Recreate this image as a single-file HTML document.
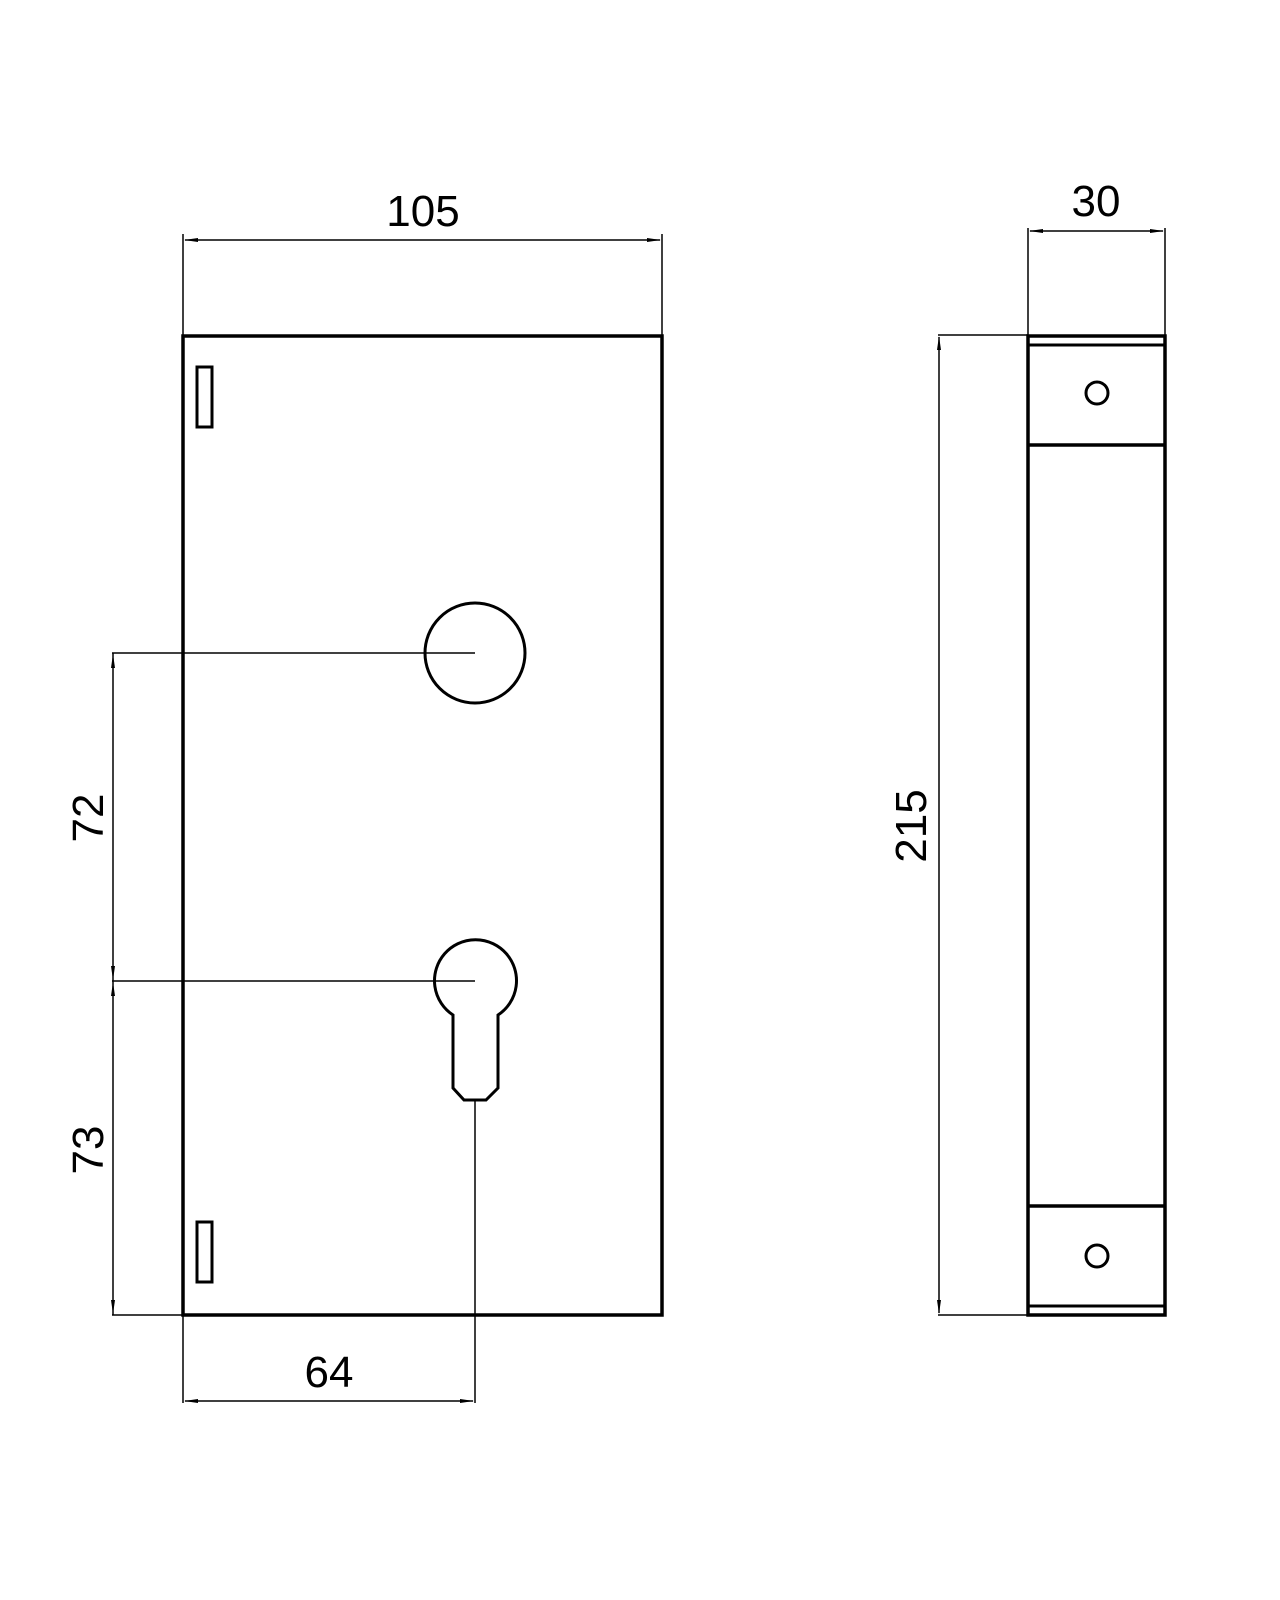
<!DOCTYPE html>
<html><head><meta charset="utf-8"><style>html,body{margin:0;padding:0;background:#fff}svg{display:block}</style></head>
<body>
<svg width="1280" height="1600" viewBox="0 0 1280 1600" xmlns="http://www.w3.org/2000/svg">
<g fill="none" stroke="#000">
  <!-- front view -->
  <rect x="183" y="336" width="479" height="979" stroke-width="3.5"/>
  <rect x="197" y="367" width="15" height="60" stroke-width="3"/>
  <rect x="197" y="1222" width="15" height="60" stroke-width="3"/>
  <circle cx="475" cy="653" r="50" stroke-width="3"/>
  <path d="M453,1015 A41,41 0 1 1 498,1015 L498,1088 L486,1100 L464,1100 L453,1088 Z" stroke-width="3"/>
  <!-- side view -->
  <rect x="1028" y="336" width="137" height="979" stroke-width="3.5"/>
  <line x1="1028" y1="345" x2="1165" y2="345" stroke-width="3"/>
  <line x1="1028" y1="445" x2="1165" y2="445" stroke-width="3.5"/>
  <line x1="1028" y1="1206" x2="1165" y2="1206" stroke-width="3.5"/>
  <line x1="1028" y1="1306" x2="1165" y2="1306" stroke-width="3"/>
  <circle cx="1097" cy="393" r="11" stroke-width="3"/>
  <circle cx="1097" cy="1256" r="11" stroke-width="3"/>
  <!-- dimension lines -->
  <g stroke-width="1.5">
    <line x1="183" y1="234" x2="183" y2="336"/>
    <line x1="662" y1="234" x2="662" y2="336"/>
    <line x1="185" y1="240" x2="660" y2="240"/>
    <line x1="1028" y1="228" x2="1028" y2="336"/>
    <line x1="1165" y1="228" x2="1165" y2="336"/>
    <line x1="1030" y1="231" x2="1163" y2="231"/>
    <line x1="938" y1="335" x2="1028" y2="335"/>
    <line x1="938" y1="1315" x2="1028" y2="1315"/>
    <line x1="939" y1="337" x2="939" y2="1313"/>
    <line x1="112" y1="653" x2="475" y2="653"/>
    <line x1="112" y1="981" x2="475" y2="981"/>
    <line x1="112" y1="1315" x2="183" y2="1315"/>
    <line x1="113" y1="653" x2="113" y2="1315"/>
    <line x1="183" y1="1315" x2="183" y2="1403"/>
    <line x1="475" y1="1100" x2="475" y2="1403"/>
    <line x1="185" y1="1401" x2="473" y2="1401"/>
  </g>
</g>
<g fill="#000">
  <path d="M184,240 L198,238 L198,242 Z"/><path d="M661,240 L647,238 L647,242 Z"/>
  <path d="M1029,231 L1043,229 L1043,233 Z"/><path d="M1164,231 L1150,229 L1150,233 Z"/>
  <path d="M939,336 L937,350 L941,350 Z"/><path d="M939,1314 L937,1300 L941,1300 Z"/>
  <path d="M113,654 L111,668 L115,668 Z"/><path d="M113,980 L111,966 L115,966 Z"/>
  <path d="M113,982 L111,996 L115,996 Z"/><path d="M113,1314 L111,1300 L115,1300 Z"/>
  <path d="M184,1401 L198,1399 L198,1403 Z"/><path d="M474,1401 L460,1399 L460,1403 Z"/>
</g>
<g font-family="Liberation Sans, sans-serif" font-size="44" fill="#000" text-anchor="middle">
  <text x="423" y="226">105</text>
  <text x="1096" y="216">30</text>
  <text x="329" y="1387">64</text>
  <text transform="translate(103,818) rotate(-90)">72</text>
  <text transform="translate(103,1150) rotate(-90)">73</text>
  <text transform="translate(926,826) rotate(-90)">215</text>
</g>
</svg>
</body></html>
